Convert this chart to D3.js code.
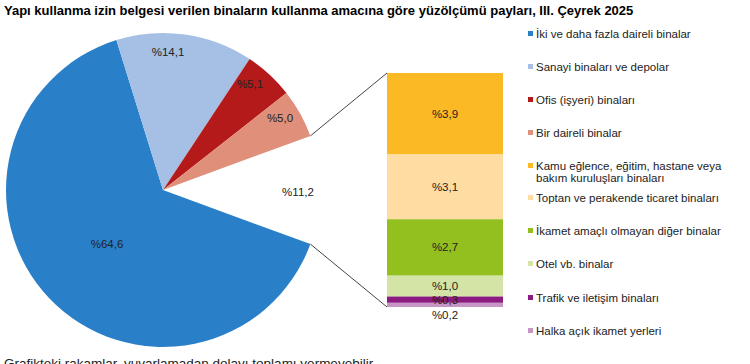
<!DOCTYPE html>
<html>
<head>
<meta charset="utf-8">
<script src="https://cdn.jsdelivr.net/npm/d3@7"></script>
<style>
  body { margin: 0; background: #fff; }
  text { font-family: "Liberation Sans", Arial, sans-serif; }
</style>
</head>
<body>
<div id="chart"></div>
<script>
const title = 'Yapı kullanma izin belgesi verilen binaların kullanma amacına göre yüzölçümü payları, III. Çeyrek 2025';
const footnote = 'Grafikteki rakamlar, yuvarlamadan dolayı toplamı vermeyebilir.';

const pieNames = ['İki ve daha fazla daireli binalar', 'Sanayi binaları ve depolar', 'Ofis (işyeri) binaları', 'Bir daireli binalar', 'Diğer'];
const pieValues = [64.6, 14.1, 5.1, 5.0, 11.2];
const pieLabels = ['%64,6', '%14,1', '%5,1', '%5,0', '%11,2'];

const barNames = ['Kamu eğlence, eğitim, hastane veya\nbakım kuruluşları binaları', 'Toptan ve perakende ticaret binaları',
    'İkamet amaçlı olmayan diğer binalar', 'Otel vb. binalar', 'Trafik ve iletişim binaları', 'Halka açık ikamet yerleri'];
const barValues = [3.9, 3.1, 2.7, 1.0, 0.3, 0.2];
const barLabels = ['%3,9', '%3,1', '%2,7', '%1,0', '%0,3', '%0,2'];

const pieColors = ['#2a80c8', '#a5c0e4', '#b51a1a', '#e08f7b', 'none'];
const barColors = ['#fbb923', '#fedca2', '#93c01f', '#d4e4a6', '#8b1b80', '#c796c6'];

const width = 750, height = 364;
const svg = d3.select('#chart').append('svg')
    .attr('width', width)
    .attr('height', height);

svg.append('text')
    .attr('x', 4).attr('y', 15)
    .attr('font-size', 13).attr('font-weight', 'bold')
    .attr('fill', '#000')
    .text(title);

// pie, with the "other" slice centred to the right
const cx = 163, cy = 190, r = 157;
const total = d3.sum(pieValues);
const otherSpan = pieValues[4] / total * 2 * Math.PI;
const start = Math.PI / 2 + otherSpan / 2;
const pie = d3.pie().sort(null).startAngle(start).endAngle(start + 2 * Math.PI);
const arcs = pie(pieValues);
const arc = d3.arc().innerRadius(0).outerRadius(r);

const g = svg.append('g').attr('transform', `translate(${cx},${cy})`);
g.selectAll('path')
    .data(arcs.slice(0, 4))
    .enter()
    .append('path')
    .attr('d', arc)
    .attr('fill', (d, i) => pieColors[i]);

const labelPos = [[-56, 54], [5, -138], [87, -106], [117, -72], [135, 2]];
g.selectAll('text.pl')
    .data(arcs)
    .enter()
    .append('text')
    .attr('class', 'pl')
    .attr('x', (d, i) => labelPos[i][0])
    .attr('y', (d, i) => labelPos[i][1])
    .attr('dy', '0.35em')
    .attr('text-anchor', 'middle')
    .attr('font-size', 11.5)
    .attr('fill', '#222')
    .text((d, i) => pieLabels[i]);

// stacked bar for the "other" slice
const barX = 387, barW = 116, barTop = 73, barBottom = 307;
const y = d3.scaleLinear().domain([0, d3.sum(barValues)]).range([barTop, barBottom]);
let acc = 0;
const segs = barValues.map((v, i) => {
    const s = { i, y0: acc, y1: acc + v };
    acc += v;
    return s;
});

svg.append('g').selectAll('rect')
    .data(segs)
    .enter()
    .append('rect')
    .attr('x', barX)
    .attr('y', d => y(d.y0))
    .attr('width', barW)
    .attr('height', d => y(d.y1) - y(d.y0))
    .attr('fill', d => barColors[d.i]);

svg.append('g').selectAll('text')
    .data(segs)
    .enter()
    .append('text')
    .attr('x', barX + barW / 2)
    .attr('y', d => d.i === 5 ? y(d.y1) + 8 : (y(d.y0) + y(d.y1)) / 2)
    .attr('dy', '0.35em')
    .attr('text-anchor', 'middle')
    .attr('font-size', 11.5)
    .attr('fill', '#222')
    .text(d => barLabels[d.i]);

// connector lines
const a = arcs[4];
const p1 = [cx + r * Math.sin(a.startAngle), cy - r * Math.cos(a.startAngle)];
const p2 = [cx + r * Math.sin(a.endAngle), cy - r * Math.cos(a.endAngle)];
svg.append('line')
    .attr('x1', p1[0]).attr('y1', p1[1]).attr('x2', barX).attr('y2', barTop)
    .attr('stroke', '#444').attr('stroke-width', 1);
svg.append('line')
    .attr('x1', p2[0]).attr('y1', p2[1]).attr('x2', barX).attr('y2', barBottom)
    .attr('stroke', '#444').attr('stroke-width', 1);

// legend
const legendItems = pieNames.slice(0, 4).map((n, i) => ({ name: n, color: pieColors[i] }))
    .concat(barNames.map((n, i) => ({ name: n, color: barColors[i] })));
const legendY = [34, 67, 100, 133, 166, 198, 231, 264, 298, 331];

const lg = svg.append('g');
const item = lg.selectAll('g')
    .data(legendItems)
    .enter()
    .append('g')
    .attr('transform', (d, i) => `translate(528, ${legendY[i]})`);
item.append('rect')
    .attr('x', 0).attr('y', -3)
    .attr('width', 5).attr('height', 5)
    .attr('fill', d => d.color);
item.append('text')
    .attr('x', 8)
    .attr('font-size', 11.5)
    .attr('fill', '#222')
    .selectAll('tspan')
    .data(d => d.name.split('\n'))
    .enter()
    .append('tspan')
    .attr('x', 8)
    .attr('y', (d, i) => i * 12)
    .attr('dy', '0.35em')
    .text(d => d);

svg.append('text')
    .attr('x', 4).attr('y', 368)
    .attr('font-size', 13.5)
    .attr('fill', '#222')
    .text(footnote);
</script>
</body>
</html>
